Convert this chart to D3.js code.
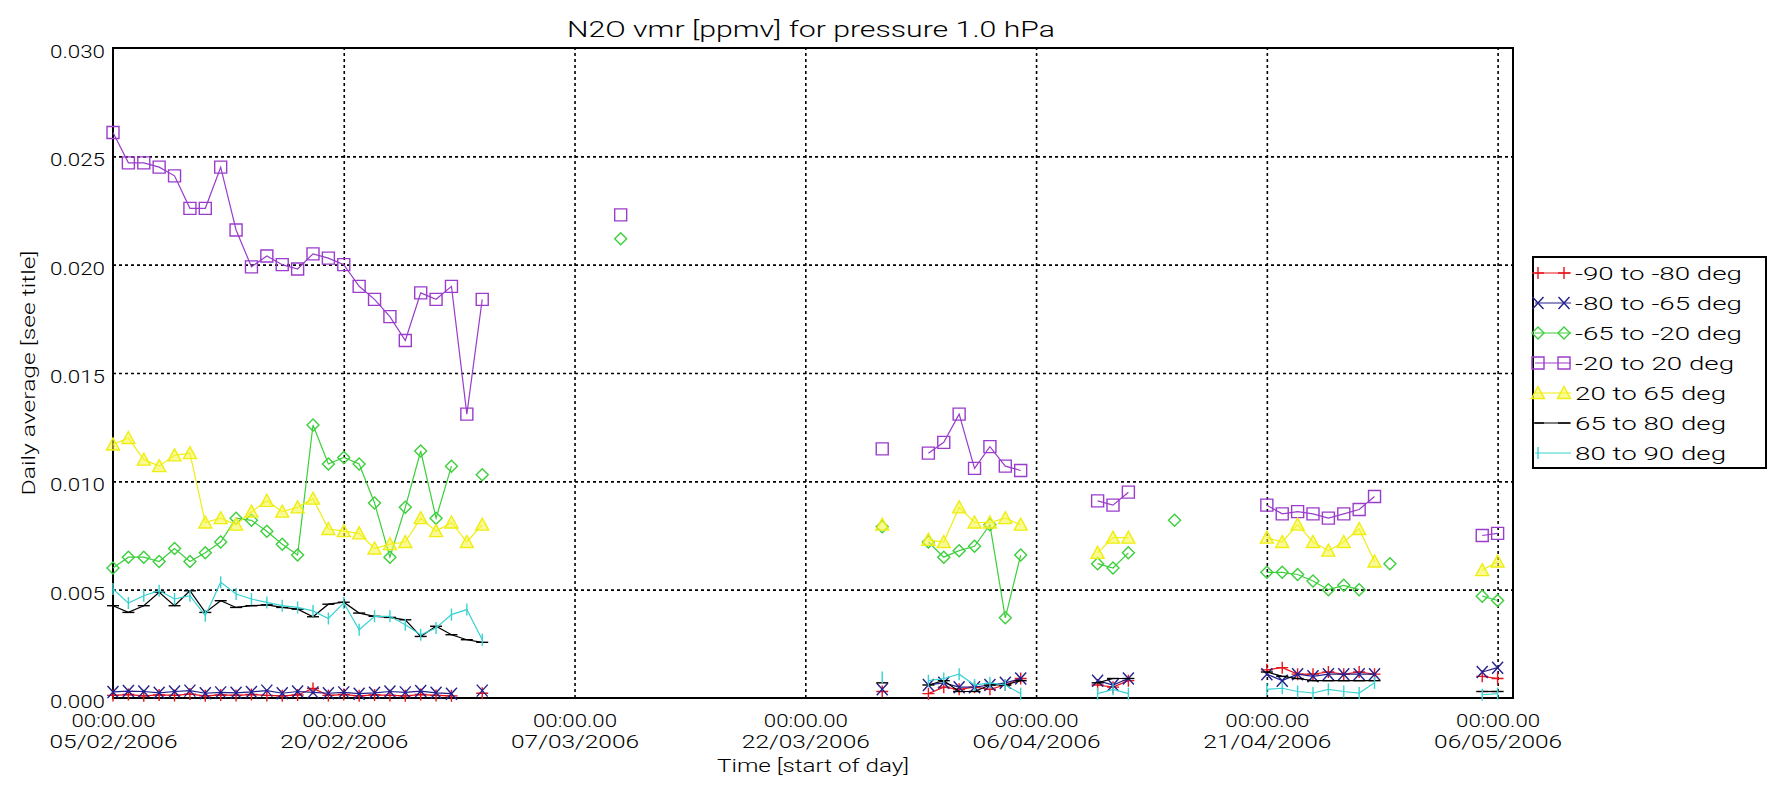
<!DOCTYPE html>
<html lang="en">
<head>
<meta charset="UTF-8">
<title>N2O vmr [ppmv] for pressure 1.0 hPa</title>
<script src="https://d3js.org/d3.v7.min.js"></script>
<style>
    body { margin: 0; background: #fff; }
    text { font-family: Roboto, "DejaVu Sans", sans-serif; font-weight: 300; fill: #000; }
    .grid line { stroke: #000; stroke-width: 1.6px; stroke-dasharray: 3,3; }
    .grid .domain { display: none; }
    .frame { fill: none; stroke: #000; stroke-width: 2px; }
    .series path.line { fill: none; stroke-width: 1.2px; }
    .series path.mark { stroke-width: 1.4px; }
</style>
</head>
<body>
<script>
    var width = 1772, height = 787;
    var plotLeft = 113, plotRight = 1513, plotTop = 48, plotBottom = 698;

    // observation days (lines break where a day is missing)
    var dates = [
        "2006-02-05","2006-02-06","2006-02-07","2006-02-08","2006-02-09","2006-02-10","2006-02-11",
        "2006-02-12","2006-02-13","2006-02-14","2006-02-15","2006-02-16","2006-02-17","2006-02-18",
        "2006-02-19","2006-02-20","2006-02-21","2006-02-22","2006-02-23","2006-02-24","2006-02-25",
        "2006-02-26","2006-02-27","2006-02-28","2006-03-01",
        "2006-03-10",
        "2006-03-27",
        "2006-03-30","2006-03-31","2006-04-01","2006-04-02","2006-04-03","2006-04-04","2006-04-05",
        "2006-04-10","2006-04-11","2006-04-12",
        "2006-04-15",
        "2006-04-21","2006-04-22","2006-04-23","2006-04-24","2006-04-25","2006-04-26","2006-04-27",
        "2006-04-28","2006-04-29",
        "2006-05-05","2006-05-06"
    ];

    var lat90to80 = [
        0.00012,0.00016,0.00010,0.00014,0.00012,0.00018,0.00010,0.00014,0.00012,0.00016,0.00012,0.00010,
        0.00014,0.00044,0.00012,0.00016,0.00010,0.00014,0.00012,0.00010,0.00016,0.00012,0.00010,null,0.00022,
        null,
        0.0003,
        0.0002,0.0005,0.0004,0.0005,0.0004,0.0006,0.0009,
        0.0006,0.0005,0.0008,
        null,
        0.0013,0.0014,0.0011,0.0011,0.0012,0.0011,0.0012,0.0011,null,
        0.0010,0.0009
    ];
    var lat80to65 = [
        0.00028,0.00032,0.00030,0.00024,0.00030,0.00034,0.00022,0.00026,0.00024,0.00028,0.00034,0.00022,
        0.00030,0.00026,0.00022,0.00026,0.00020,0.00024,0.00030,0.00026,0.00032,0.00024,0.00020,null,0.00034,
        null,
        0.0004,
        0.0006,0.0007,0.0005,0.0005,0.0006,0.0007,0.0009,
        0.0008,0.0006,0.0009,
        null,
        0.0011,0.0008,0.0011,0.0010,0.0011,0.0011,0.0011,0.0011,null,
        0.0012,0.0014
    ];
    var lat65to20 = [
        0.0060,0.0065,0.0065,0.0063,0.0069,0.0063,0.0067,0.0072,0.0083,0.0082,0.0077,0.0071,
        0.0066,0.0126,0.0108,0.0111,0.0108,0.0090,0.0065,0.0088,0.0114,0.0083,0.0107,null,0.0103,
        0.0212,
        0.0079,
        0.0072,0.0065,0.0068,0.0070,0.0080,0.0037,0.0066,
        0.0062,0.0060,0.0067,
        0.0082,
        0.0058,0.0058,0.0057,0.0054,0.0050,0.0052,0.0050,null,0.0062,
        0.0047,0.0045
    ];
    var lat20to20 = [
        0.0261,0.0247,0.0247,0.0245,0.0241,0.0226,0.0226,0.0245,0.0216,0.0199,0.0204,0.0200,
        0.0198,0.0205,0.0203,0.0200,0.0190,0.0184,0.0176,0.0165,0.0187,0.0184,0.0190,0.0131,0.0184,
        0.0223,
        0.0115,
        0.0113,0.0118,0.0131,0.0106,0.0116,0.0107,0.0105,
        0.0091,0.0089,0.0095,
        null,
        0.0089,0.0085,0.0086,0.0085,0.0083,0.0085,0.0087,0.0093,null,
        0.0075,0.0076
    ];
    var lat20to65 = [
        0.0117,0.0120,0.0110,0.0107,0.0112,0.0113,0.0081,0.0083,0.0080,0.0086,0.0091,0.0086,
        0.0088,0.0092,0.0078,0.0077,0.0076,0.0069,0.0071,0.0072,0.0083,0.0077,0.0081,0.0072,0.0080,
        null,
        0.0080,
        0.0073,0.0072,0.0088,0.0081,0.0081,0.0083,0.0080,
        0.0067,0.0074,0.0074,
        null,
        0.0074,0.0072,0.0080,0.0072,0.0068,0.0072,0.0078,0.0063,null,
        0.0059,0.0063
    ];
    var lat65to80 = [
        0.00426,0.00395,0.00426,0.00488,0.00426,0.00495,0.00395,0.00449,0.00418,0.00426,0.00430,0.00418,
        0.00410,0.00375,0.00433,0.00442,0.00392,0.00377,0.00372,0.00361,0.00284,0.00331,0.00292,0.00269,0.00257,
        null,
        0.0007,
        0.0006,0.0008,0.0003,0.0003,0.0006,0.0006,0.0008,
        0.0007,0.0009,0.0009,
        null,
        0.0012,0.0010,0.0009,0.0008,0.0008,0.0008,0.0008,0.0008,null,
        0.0003,0.0003
    ];
    var lat80to90 = [
        0.00503,0.00438,0.00472,0.00495,0.00457,0.00472,0.00380,0.00534,0.00480,0.00457,0.00441,0.00426,
        0.00418,0.00402,0.00367,0.00439,0.00315,0.00377,0.00377,0.00338,0.00292,0.00323,0.00385,0.00408,0.00269,
        null,
        0.00095,
        0.0008,0.0009,0.0011,0.0006,0.0007,0.0006,0.0002,
        0.0002,0.0004,0.0002,
        null,
        0.0004,0.00045,0.0003,0.00023,0.0004,0.0003,0.00023,0.0007,null,
        0.00015,0.0002
    ];

    var seriesNames = ["-90 to -80 deg","-80 to -65 deg","-65 to -20 deg","-20 to 20 deg",
                       "20 to 65 deg","65 to 80 deg","80 to 90 deg"];
    var seriesValues = [lat90to80, lat80to65, lat65to20, lat20to20, lat20to65, lat65to80, lat80to90];

    var tickDates = ["2006-02-05","2006-02-20","2006-03-07","2006-03-22","2006-04-06","2006-04-21","2006-05-06"];
    var yTicks = [0, 0.005, 0.010, 0.015, 0.020, 0.025, 0.030];

    var seriesColors = ["#e8141c","#24208e","#3ccf3c","#9a3ccc","#eeee10","#000000","#38d2d2"];
    var seriesMarks  = ["plus","cross","diamond","square","triangle","dash","bar"];
    var markPaths = {
        plus:     "M-6,0H6M0,-6V6",
        cross:    "M-5.5,-6L5.5,6M-5.5,6L5.5,-6",
        diamond:  "M0,-6L6,0L0,6L-6,0Z",
        square:   "M-6,-6H6V6H-6Z",
        triangle: "M0,-6.5L6.5,5.5H-6.5Z",
        dash:     "M-6,0H6",
        bar:      "M0,-6V6"
    };

    var parseDay = d3.utcParse("%Y-%m-%d");
    var days = dates.map(parseDay);

    var svg = d3.select("body").append("svg")
        .attr("width", width)
        .attr("height", height);

    var x = d3.scaleUtc()
        .domain([parseDay("2006-02-05"), parseDay("2006-05-07")])
        .range([plotLeft, plotRight]);
    var y = d3.scaleLinear()
        .domain([0, 0.030])
        .range([plotBottom, plotTop]);

    // grid
    svg.append("g")
        .attr("class", "grid")
        .attr("transform", "translate(0," + plotBottom + ")")
        .call(d3.axisBottom(x).tickValues(tickDates.slice(1).map(parseDay))
            .tickSize(-(plotBottom - plotTop)).tickFormat(""));
    svg.append("g")
        .attr("class", "grid")
        .attr("transform", "translate(" + plotLeft + ",0)")
        .call(d3.axisLeft(y).tickValues(yTicks.slice(1, -1))
            .tickSize(-(plotRight - plotLeft)).tickFormat(""));

    svg.append("rect")
        .attr("class", "frame")
        .attr("x", plotLeft).attr("y", plotTop)
        .attr("width", plotRight - plotLeft)
        .attr("height", plotBottom - plotTop);

    // x labels: two lines per tick
    var fmtDay = d3.utcFormat("%d/%m/%Y");
    var xAxis = svg.append("g")
        .attr("transform", "translate(0," + plotBottom + ")")
        .call(d3.axisBottom(x).tickValues(tickDates.map(parseDay)).tickSize(0).tickFormat(""));
    xAxis.select(".domain").remove();
    xAxis.selectAll(".tick text").remove();
    xAxis.selectAll(".tick").each(function(d) {
        var g = d3.select(this);
        g.append("text")
            .attr("y", 22).attr("dominant-baseline", "central")
            .attr("text-anchor", "middle")
            .style("font-size", "18px")
            .attr("textLength", 84).attr("lengthAdjust", "spacingAndGlyphs")
            .text("00:00.00");
        g.append("text")
            .attr("y", 43).attr("dominant-baseline", "central")
            .attr("text-anchor", "middle")
            .style("font-size", "18px")
            .attr("textLength", 128).attr("lengthAdjust", "spacingAndGlyphs")
            .text(fmtDay(d));
    });

    var yAxis = svg.append("g")
        .attr("transform", "translate(" + plotLeft + ",0)")
        .call(d3.axisLeft(y).tickValues(yTicks).tickSize(0).tickPadding(8)
            .tickFormat(d3.format(".3f")));
    yAxis.select(".domain").remove();
    yAxis.selectAll(".tick text")
        .attr("dy", null)
        .attr("y", 3)
        .attr("dominant-baseline", "central")
        .style("font-size", "18px")
        .style("font-family", null)
        .attr("font-family", null)
        .attr("textLength", 55).attr("lengthAdjust", "spacingAndGlyphs");
    yAxis.attr("font-family", null).attr("font-size", null);
    xAxis.attr("font-family", null).attr("font-size", null);

    // titles
    svg.append("text")
        .attr("x", 811).attr("y", 37)
        .attr("text-anchor", "middle")
        .style("font-size", "22px")
        .attr("textLength", 488).attr("lengthAdjust", "spacingAndGlyphs")
        .text("N2O vmr [ppmv] for pressure 1.0 hPa");

    svg.append("text")
        .attr("x", (plotLeft + plotRight) / 2).attr("y", 765)
        .attr("text-anchor", "middle")
        .attr("dominant-baseline", "central")
        .style("font-size", "18px")
        .attr("textLength", 192).attr("lengthAdjust", "spacingAndGlyphs")
        .text("Time [start of day]");

    svg.append("text")
        .attr("transform", "translate(28," + (plotTop + plotBottom) / 2 + ") rotate(-90)")
        .attr("text-anchor", "middle")
        .attr("dominant-baseline", "central")
        .style("font-size", "18px")
        .attr("textLength", 245).attr("lengthAdjust", "spacingAndGlyphs")
        .text("Daily average [see title]");

    // series
    function runs(vals) {
        var out = [], cur = [];
        vals.forEach(function(v, i) {
            if (v === null) {
                if (cur.length) out.push(cur);
                cur = [];
                return;
            }
            if (cur.length && (days[i] - cur[cur.length - 1].date) / 864e5 > 1.5) {
                out.push(cur);
                cur = [];
            }
            cur.push({date: days[i], v: v});
        });
        if (cur.length) out.push(cur);
        return out;
    }

    var line = d3.line()
        .x(function(d) { return x(d.date); })
        .y(function(d) { return y(d.v); });

    seriesValues.forEach(function(vals, k) {
        var g = svg.append("g").attr("class", "series");
        var col = seriesColors[k];
        g.selectAll("path.line")
            .data(runs(vals).filter(function(r) { return r.length > 1; }))
            .enter().append("path")
            .attr("class", "line")
            .attr("stroke", col)
            .attr("d", line);
        var pts = [];
        vals.forEach(function(v, i) { if (v !== null) pts.push({date: days[i], v: v}); });
        g.selectAll("path.mark")
            .data(pts)
            .enter().append("path")
            .attr("class", "mark")
            .attr("d", markPaths[seriesMarks[k]])
            .attr("stroke", col)
            .attr("fill", seriesMarks[k] === "triangle" ? "rgba(245,245,60,0.55)" : "none")
            .attr("transform", function(d) { return "translate(" + x(d.date) + "," + y(d.v) + ")"; });
    });

    // legend
    var legend = svg.append("g");
    legend.append("rect")
        .attr("class", "frame")
        .attr("x", 1533).attr("y", 257)
        .attr("width", 233).attr("height", 211);
    var rows = legend.selectAll("g.row")
        .data(seriesNames)
        .enter().append("g")
        .attr("class", "row")
        .attr("transform", function(d, i) { return "translate(0," + (273 + 30 * i) + ")"; });
    rows.append("line")
        .attr("x1", 1535).attr("x2", 1571)
        .attr("stroke", function(d, i) { return seriesColors[i]; })
        .attr("stroke-width", 1.2);
    rows.each(function(d, i) {
        var r = d3.select(this);
        var xs = seriesMarks[i] === "bar" ? [1538] : [1538, 1564];
        xs.forEach(function(mx) {
            r.append("path")
                .attr("d", markPaths[seriesMarks[i]])
                .attr("transform", "translate(" + mx + ",0)")
                .attr("stroke", seriesColors[i])
                .attr("stroke-width", 1.4)
                .attr("fill", seriesMarks[i] === "triangle" ? "rgba(245,245,60,0.55)" : "none");
        });
    });
    var ltext = rows.append("text")
        .attr("x", 1575)
        .attr("dominant-baseline", "central")
        .style("font-size", "19px")
        .text(function(d) { return d; });
    var k0 = 167 / ltext.node().getComputedTextLength();
    ltext.each(function() {
        var t = d3.select(this);
        t.attr("textLength", this.getComputedTextLength() * k0)
         .attr("lengthAdjust", "spacingAndGlyphs");
    });
</script>
</body>
</html>
